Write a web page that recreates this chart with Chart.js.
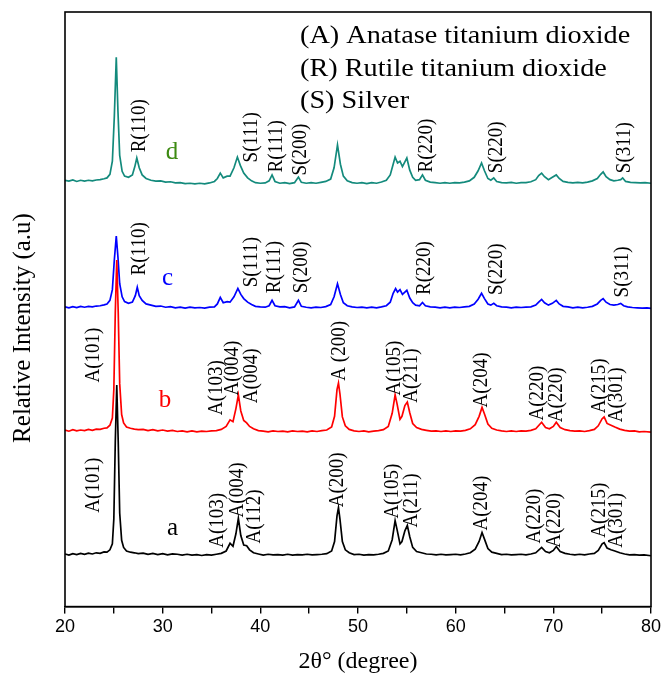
<!DOCTYPE html>
<html>
<head>
<meta charset="utf-8">
<script src="https://cdn.jsdelivr.net/npm/chart.js@4.4.1/dist/chart.umd.min.js"></script>
<style>
  body { margin: 0; background: #fff; }
</style>
</head>
<body>
<canvas id="xrdChart" width="665" height="688"></canvas>
<script>
// 2θ / relative intensity pairs (intensity above each curve's own baseline)
const patternA = [
  [20.0,0.1],[20.4,-0.1],[20.8,0.15],[21.2,0],[21.6,0.2],[22.0,0.05],[22.4,0.25],[22.8,0.1],[23.2,0.3],[23.6,0.2],
  [24.0,0.45],[24.3,0.4],[24.6,0.8],[24.85,1.8],[25.0,6],[25.15,19],[25.3,28.5],[25.45,19],[25.6,7],[25.8,2.4],
  [26.0,1.2],[26.3,0.6],[26.7,0.4],[27.1,0.3],[27.5,0.15],[28.0,0.25],[28.5,0.05],[29.0,0.2],[29.5,0],[30.0,0.15],
  [30.5,-0.05],[31.0,0.1],[31.5,0.05],[32.0,-0.1],[32.5,0.05],[33.0,-0.1],[33.5,0],[34.0,-0.15],[34.5,0],[35.0,-0.1],
  [35.5,0.05],[36.0,0.2],[36.5,0.6],[36.9,1.9],[37.2,1.4],[37.5,3.5],[37.75,6.1],[38.0,3.2],[38.3,1.6],[38.6,1.5],
  [38.9,0.8],[39.3,0.3],[39.8,0.1],[40.3,-0.1],[40.8,0.05],[41.3,-0.05],[41.8,0],[42.3,-0.1],[42.8,0.05],[43.3,-0.1],
  [43.8,0],[44.3,-0.05],[44.8,0.05],[45.3,-0.05],[45.8,0],[46.3,0.05],[46.8,0.15],[47.3,0.6],[47.6,2.2],[47.85,6.5],
  [48.0,7.9],[48.15,6],[48.4,2.2],[48.7,0.8],[49.1,0.3],[49.6,0],[50.1,0.05],[50.6,-0.1],[51.1,0],[51.6,-0.05],
  [52.1,0.05],[52.6,0.2],[53.1,0.6],[53.5,2.5],[53.8,5.7],[54.0,4.2],[54.3,1.8],[54.5,2.2],[54.8,4],[55.05,4.9],
  [55.3,3],[55.6,1.2],[56.0,0.5],[56.5,0.3],[57.0,0.1],[57.5,0.05],[58.0,-0.05],[58.5,0.05],[59.0,-0.05],[59.5,0],
  [60.0,0.05],[60.5,-0.05],[61.0,0.1],[61.5,0.3],[62.0,0.9],[62.4,2.2],[62.7,3.7],[62.95,2.6],[63.3,1.0],[63.7,0.4],
  [64.2,0.2],[64.7,0],[65.2,0.05],[65.7,-0.05],[66.2,0],[66.7,0.05],[67.2,-0.05],[67.7,0.1],[68.2,0.3],[68.8,1.2],
  [69.2,0.5],[69.6,0.3],[70.0,0.7],[70.3,1.35],[70.7,0.5],[71.2,0.2],[71.7,0.05],[72.2,-0.05],[72.7,0.05],[73.2,-0.05],
  [73.7,0.1],[74.2,0.2],[74.6,0.7],[75.0,1.8],[75.2,2.0],[75.5,1.1],[75.9,0.8],[76.3,0.6],[76.8,0.3],[77.3,0.1],
  [77.8,-0.05],[78.3,0],[78.8,-0.1],[79.3,-0.05],[80.0,-0.2]
];
const patternB = [
  [20.0,0.2],[20.4,0],[20.8,0.25],[21.2,0.05],[21.6,0.2],[22.0,0.1],[22.4,0.3],[22.8,0.15],[23.2,0.35],[23.6,0.3],
  [24.0,0.5],[24.3,0.55],[24.6,1.0],[24.85,2.2],[25.0,7],[25.15,20],[25.3,28.8],[25.45,20],[25.6,8],[25.8,2.8],
  [26.0,1.4],[26.3,0.7],[26.7,0.5],[27.1,0.35],[27.5,0.25],[28.0,0.3],[28.5,0.1],[29.0,0.25],[29.5,0.05],[30.0,0.2],
  [30.5,0],[31.0,0.15],[31.5,-0.05],[32.0,0.05],[32.5,-0.1],[33.0,0.05],[33.5,-0.1],[34.0,0],[34.5,-0.05],[35.0,0.05],
  [35.5,0.1],[36.0,0.3],[36.5,0.8],[36.9,1.9],[37.2,1.6],[37.5,3.8],[37.75,6.1],[38.0,3.4],[38.3,1.8],[38.6,1.4],
  [38.9,0.8],[39.3,0.4],[39.8,0.1],[40.3,0],[40.8,-0.1],[41.3,0.05],[41.8,-0.05],[42.3,0],[42.8,-0.1],[43.3,0.05],
  [43.8,-0.05],[44.3,0],[44.8,-0.1],[45.3,0.05],[45.8,-0.05],[46.3,0.1],[46.8,0.2],[47.3,0.7],[47.6,2.5],[47.85,7],
  [48.0,8.1],[48.15,6.3],[48.4,2.4],[48.7,0.9],[49.1,0.3],[49.6,0.05],[50.1,-0.05],[50.6,0.05],[51.1,-0.1],[51.6,0],
  [52.1,0.1],[52.6,0.25],[53.1,0.8],[53.5,3],[53.8,6.1],[54.0,4.6],[54.3,2.0],[54.5,2.5],[54.8,4.3],[55.05,4.9],
  [55.3,3.1],[55.6,1.3],[56.0,0.6],[56.5,0.3],[57.0,0.15],[57.5,0],[58.0,0.05],[58.5,-0.05],[59.0,0.05],[59.5,-0.05],
  [60.0,0.05],[60.5,0],[61.0,0.15],[61.5,0.4],[62.0,1.1],[62.4,2.5],[62.7,4.0],[62.95,2.9],[63.3,1.2],[63.7,0.5],
  [64.2,0.2],[64.7,0.05],[65.2,-0.05],[65.7,0.05],[66.2,-0.05],[66.7,0.05],[67.2,0],[67.7,0.15],[68.2,0.4],[68.8,1.5],
  [69.2,0.6],[69.6,0.4],[70.0,0.8],[70.3,1.5],[70.7,0.6],[71.2,0.25],[71.7,0.1],[72.2,0],[72.7,0.05],[73.2,-0.05],
  [73.7,0.1],[74.2,0.3],[74.6,0.9],[75.0,2.1],[75.2,2.4],[75.5,1.3],[75.9,1.0],[76.3,0.7],[76.8,0.35],[77.3,0.15],
  [77.8,0],[78.3,0.05],[78.8,-0.1],[79.3,-0.05],[80.0,-0.15]
];
const patternC = [
  [20.0,0.1],[20.4,-0.05],[20.8,0.15],[21.2,0],[21.6,0.2],[22.0,0.05],[22.4,0.2],[22.8,0.1],[23.2,0.25],[23.6,0.3],
  [24.0,0.45],[24.3,0.6],[24.6,1.2],[24.85,3],[25.05,8],[25.25,12],[25.42,8.5],[25.6,4],[25.85,1.8],[26.1,1.0],
  [26.5,0.7],[26.9,0.9],[27.2,2],[27.4,3.4],[27.6,2.0],[27.9,1.2],[28.3,0.6],[28.8,0.4],[29.3,0.2],[29.8,0.25],
  [30.3,0.05],[30.8,0.15],[31.3,-0.05],[31.8,0.05],[32.3,-0.1],[32.8,0.05],[33.3,-0.05],[33.8,0],[34.3,-0.1],[34.8,0.05],
  [35.3,0.1],[35.6,0.6],[35.9,1.7],[36.2,0.8],[36.6,1.0],[36.9,0.9],[37.3,1.8],[37.7,3.2],[38.0,2.2],[38.3,1.5],
  [38.7,0.9],[39.1,0.5],[39.5,0.2],[40.0,0.1],[40.5,0.05],[40.9,0.3],[41.2,1.2],[41.5,0.3],[42.0,0.1],[42.5,0.15],
  [43.0,-0.05],[43.5,0.1],[43.9,1.2],[44.2,0.2],[44.7,0.05],[45.2,-0.05],[45.7,0.05],[46.2,0],[46.7,0.15],[47.2,0.5],
  [47.55,1.8],[47.9,4.0],[48.2,2.2],[48.5,0.8],[48.9,0.3],[49.4,0.1],[49.9,0],[50.4,0.05],[50.9,-0.05],[51.4,0.05],
  [51.9,-0.05],[52.4,0.1],[52.9,0.3],[53.3,0.9],[53.6,2.4],[53.85,3.2],[54.05,2.6],[54.3,3.0],[54.55,2.2],[54.8,2.6],
  [55.0,2.9],[55.3,1.6],[55.6,0.8],[55.9,0.4],[56.3,0.3],[56.6,0.85],[56.9,0.3],[57.4,0.1],[57.9,0.05],[58.4,-0.05],
  [58.9,0.05],[59.4,-0.05],[59.9,0.05],[60.4,0],[60.9,0.1],[61.4,0.2],[61.9,0.6],[62.3,1.4],[62.65,2.4],[62.95,1.5],
  [63.3,0.6],[63.6,0.4],[63.9,0.7],[64.2,0.3],[64.7,0.1],[65.2,0.05],[65.7,-0.05],[66.2,0.05],[66.7,0],[67.2,0.05],
  [67.7,0.1],[68.2,0.4],[68.5,0.9],[68.8,1.35],[69.1,0.8],[69.5,0.4],[69.9,0.7],[70.3,1.2],[70.6,0.6],[71.0,0.2],
  [71.5,0.1],[72.0,-0.05],[72.5,0.05],[73.0,-0.05],[73.5,0.05],[74.0,0.2],[74.5,0.6],[74.85,1.2],[75.1,1.5],[75.4,0.9],
  [75.8,0.5],[76.2,0.4],[76.6,0.5],[76.9,0.7],[77.2,0.3],[77.6,0.1],[78.1,0],[78.6,-0.05],[79.1,-0.1],[79.6,-0.05],
  [80.0,-0.15]
];
const patternD = [
  [20.0,0.3],[20.4,0.15],[20.8,0.35],[21.2,0.1],[21.6,0.3],[22.0,0.15],[22.4,0.3],[22.8,0.2],[23.2,0.35],[23.6,0.4],
  [24.0,0.55],[24.3,0.7],[24.6,1.3],[24.85,3.5],[25.05,11],[25.25,21],[25.42,12],[25.6,4.5],[25.85,1.8],[26.1,1.0],
  [26.5,0.8],[26.9,1.2],[27.15,2.6],[27.35,4.05],[27.6,2.4],[27.9,1.2],[28.3,0.6],[28.8,0.3],[29.3,0.15],[29.8,0.2],
  [30.3,0],[30.8,0.05],[31.3,-0.15],[31.8,-0.1],[32.3,-0.25],[32.8,-0.2],[33.3,-0.3],[33.8,-0.2],[34.3,-0.3],[34.8,-0.15],
  [35.3,0.1],[35.6,0.6],[35.9,1.5],[36.2,0.7],[36.6,1.0],[36.9,1.0],[37.3,2.4],[37.65,4.2],[37.95,2.8],[38.3,1.5],
  [38.7,0.7],[39.1,0.2],[39.5,-0.1],[40.0,-0.2],[40.5,-0.15],[40.9,0.2],[41.2,1.2],[41.5,0.1],[42.0,-0.2],[42.5,-0.1],
  [43.0,-0.25],[43.5,-0.1],[43.9,0.85],[44.2,-0.05],[44.7,-0.2],[45.2,-0.1],[45.7,-0.2],[46.2,-0.05],[46.7,0.1],[47.2,0.5],
  [47.55,2.4],[47.9,6.25],[48.2,3.0],[48.5,1.0],[48.9,0.2],[49.4,-0.1],[49.9,-0.2],[50.4,-0.1],[50.9,-0.25],[51.4,-0.1],
  [51.9,-0.2],[52.4,0],[52.9,0.3],[53.3,1.2],[53.6,3.0],[53.8,4.2],[54.05,3.2],[54.3,3.5],[54.55,2.6],[54.8,3.4],
  [55.0,4.05],[55.3,2.0],[55.6,0.8],[55.9,0.3],[56.3,0.4],[56.6,1.2],[56.9,0.3],[57.4,0],[57.9,-0.1],[58.4,-0.2],
  [58.9,-0.1],[59.4,-0.2],[59.9,-0.1],[60.4,-0.15],[60.9,0],[61.4,0.2],[61.9,0.8],[62.3,1.9],[62.65,3.2],[62.95,1.9],
  [63.3,0.6],[63.6,0.3],[63.9,0.7],[64.2,0.1],[64.7,-0.1],[65.2,-0.15],[65.7,-0.05],[66.2,-0.2],[66.7,-0.1],[67.2,-0.1],
  [67.7,0.05],[68.2,0.4],[68.5,1.1],[68.8,1.5],[69.1,0.9],[69.5,0.4],[69.9,0.8],[70.3,1.2],[70.6,0.6],[71.0,0.1],
  [71.5,-0.05],[72.0,-0.15],[72.5,-0.05],[73.0,-0.15],[73.5,0],[74.0,0.2],[74.5,0.6],[74.85,1.3],[75.1,1.7],[75.4,0.9],
  [75.8,0.4],[76.2,0.2],[76.6,0.3],[76.9,0.4],[77.1,0.7],[77.4,0.1],[77.9,-0.05],[78.4,-0.1],[78.9,-0.15],[79.4,-0.1],
  [80.0,-0.2]
];

const sampleNames = ['a', 'b', 'c', 'd'];
const sampleOffsets = [8.75, 29.5, 50.3, 71.4];
const sampleColors = ['#000000', '#ff0000', '#0000ff', '#138a7c'];
const nameColors = ['#000000', '#ff0000', '#0000ff', '#3d8a12'];
// letter positions: [2θ, intensity]
const namePositions = [[31.0, 13.1], [30.25, 34.7], [30.5, 55.2], [30.95, 76.3]];

// peak labels: [text, 2θ, intensity at start of text]
const labelsA = [
  ['A(101)', 22.97, 15.8], ['A(103)', 35.66, 9.9], ['A(004)', 37.71, 15.0], ['A(112)', 39.45, 10.6],
  ['A(200)', 47.94, 16.7], ['A(105)', 53.57, 14.8], ['A(211)', 55.52, 13.3], ['A(204)', 62.68, 12.8],
  ['A(220)', 68.1, 10.6], ['A(220)', 70.15, 9.9], ['A(215)', 74.76, 11.6], ['A(301)', 76.5, 9.9]
];
const labelsB = [
  ['A(101)', 22.87, 37.7], ['A(103)', 35.56, 32.2], ['A(004)', 37.2, 35.5], ['A(004)', 39.14, 34.2],
  ['A (200)', 48.15, 38.0], ['A(105)', 53.78, 35.5], ['A(211)', 55.52, 34.3], ['A(204)', 62.68, 33.5],
  ['A(220)', 68.41, 31.3], ['A(220)', 70.36, 31.0], ['A(215)', 74.76, 32.5], ['A(301)', 76.5, 31.0]
];
const labelsC = [
  ['R(110)', 27.68, 55.7], ['S(111)', 39.14, 53.7], ['R(111)', 41.49, 52.7], ['S(200)', 44.26, 52.7],
  ['R(220)', 56.85, 52.4], ['S(220)', 64.22, 52.4], ['S(311)', 77.11, 52.0]
];
const labelsD = [
  ['R(110)', 27.68, 76.4], ['S(111)', 39.14, 74.7], ['R(111)', 41.7, 73.0], ['S(200)', 44.16, 72.5],
  ['R(220)', 57.05, 73.0], ['S(220)', 64.22, 72.9], ['S(311)', 77.32, 72.9]
];

const phaseKey = ['(A) Anatase titanium dioxide', '(R) Rutile titanium dioxide', '(S) Silver'];

const serif = '"Liberation Serif", "Times New Roman", serif';
const sans = '"Liberation Sans", Arial, sans-serif';

const patterns = [patternA, patternB, patternC, patternD];
const datasets = patterns.map((p, i) => ({
  label: sampleNames[i],
  data: p.map(pt => ({ x: pt[0], y: pt[1] + sampleOffsets[i] })),
  borderColor: sampleColors[i],
  borderWidth: 1.7,
  pointRadius: 0,
  tension: 0,
  fill: false
}));

const textPlugin = {
  id: 'xrdText',
  afterDatasetsDraw(chart) {
    const ctx = chart.ctx;
    const xs = chart.scales.x;
    const ys = chart.scales.y;
    const area = chart.chartArea;

    ctx.save();
    // frame
    ctx.strokeStyle = '#000';
    ctx.lineWidth = 1.6;
    ctx.strokeRect(area.left, area.top, area.right - area.left, area.bottom - area.top);

    // rotated peak labels
    ctx.fillStyle = '#000';
    ctx.font = '19px ' + serif;
    ctx.textAlign = 'left';
    ctx.textBaseline = 'middle';
    [labelsA, labelsB, labelsC, labelsD].forEach(list => {
      list.forEach(([txt, tx, ty]) => {
        ctx.save();
        ctx.translate(xs.getPixelForValue(tx), ys.getPixelForValue(ty));
        ctx.rotate(-Math.PI / 2);
        ctx.scale(1, 1.1);
        ctx.fillText(txt, 0, 0);
        ctx.restore();
      });
    });

    // sample letters
    ctx.font = '25px ' + serif;
    ctx.textAlign = 'center';
    namePositions.forEach(([tx, ty], i) => {
      ctx.fillStyle = nameColors[i];
      ctx.fillText(sampleNames[i], xs.getPixelForValue(tx), ys.getPixelForValue(ty));
    });

    // phase key (text is a little wide in the original)
    ctx.fillStyle = '#000';
    ctx.font = '25px ' + serif;
    ctx.textAlign = 'left';
    ctx.textBaseline = 'alphabetic';
    phaseKey.forEach((txt, i) => {
      ctx.save();
      ctx.translate(300, 43 + i * 32.5);
      ctx.scale(1.13, 1);
      ctx.fillText(txt, 0, 0);
      ctx.restore();
    });

    // y title
    ctx.save();
    ctx.translate(23, 328);
    ctx.rotate(-Math.PI / 2);
    ctx.textAlign = 'center';
    ctx.textBaseline = 'middle';
    ctx.font = '25px ' + serif;
    ctx.fillText('Relative Intensity (a.u)', 0, 0);
    ctx.restore();

    ctx.restore();
  }
};

new Chart(document.getElementById('xrdChart').getContext('2d'), {
  type: 'line',
  data: { datasets: datasets },
  options: {
    responsive: false,
    animation: false,
    layout: { padding: { left: 65, right: 14, top: 12, bottom: 12 } },
    plugins: {
      legend: { display: false },
      tooltip: { enabled: false }
    },
    scales: {
      x: {
        type: 'linear',
        min: 20,
        max: 80,
        border: { display: true, color: '#000', width: 1.6 },
        grid: { drawOnChartArea: false, drawTicks: true, tickLength: 7, color: '#000', lineWidth: 1.4 },
        ticks: {
          stepSize: 5,
          autoSkip: false,
          maxRotation: 0,
          padding: 3,
          color: '#000',
          font: { family: sans, size: 18 },
          callback: v => (v % 10 === 0 ? v : '')
        },
        title: {
          display: true,
          text: '2θ° (degree)',
          color: '#000',
          font: { family: serif, size: 24 },
          padding: { top: 6, bottom: 0 }
        }
      },
      y: {
        display: false,
        min: 0,
        max: 100
      }
    }
  },
  plugins: [textPlugin]
});
</script>
</body>
</html>
